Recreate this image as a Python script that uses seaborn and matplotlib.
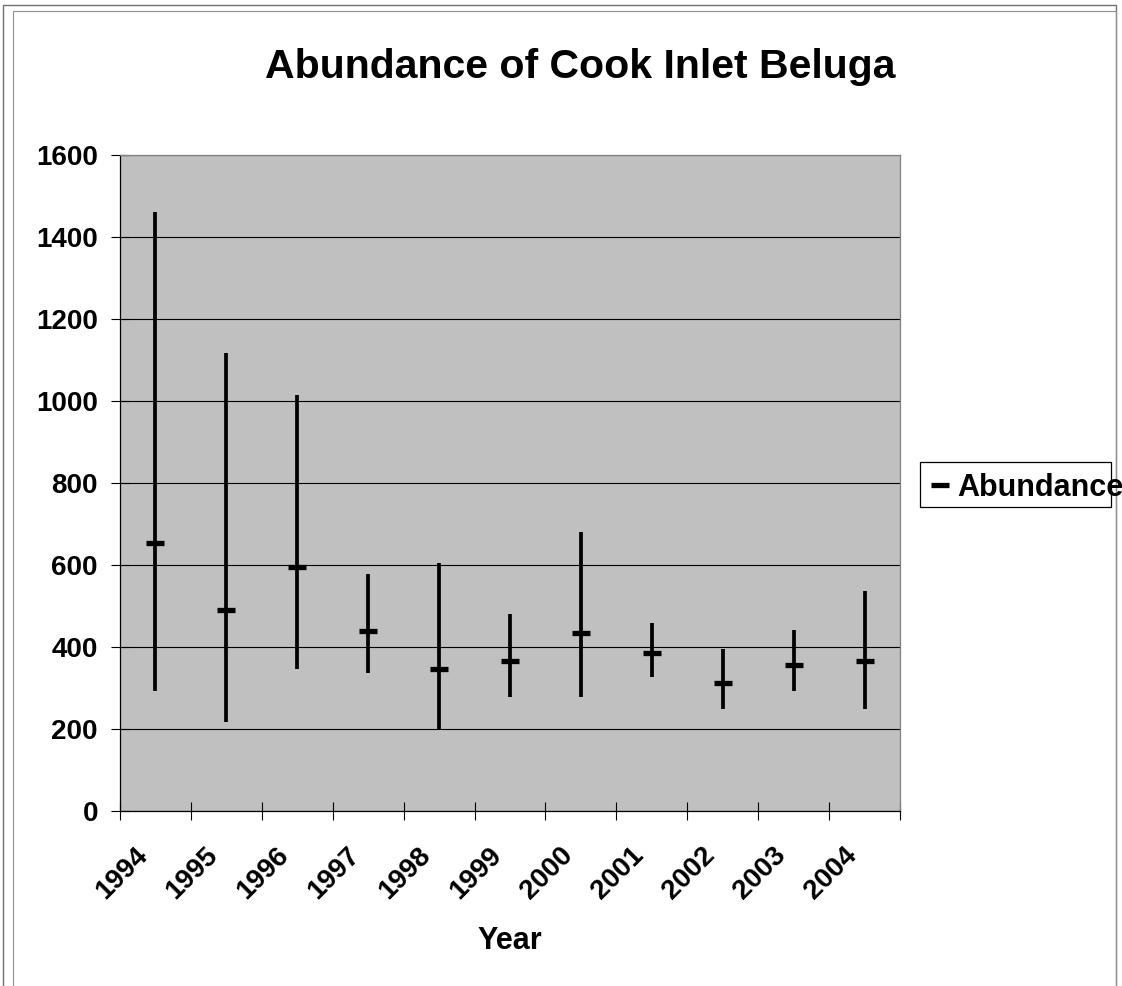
import numpy as np
import pandas as pd
import matplotlib
matplotlib.use("Agg")
import matplotlib.pyplot as plt
from matplotlib.lines import Line2D
from matplotlib.patches import Rectangle
from matplotlib.transforms import ScaledTranslation
import seaborn as sns

# ── data ─────────────────────────────────────────────────────────────────────
YEARS = ["1994", "1995", "1996", "1997", "1998", "1999",
         "2000", "2001", "2002", "2003", "2004"]
ABUNDANCE = [653, 491, 594, 440, 347, 367, 435, 386, 313, 357, 366]
LOW = [293, 216, 346, 336, 198, 279, 279, 328, 248, 292, 248]
HIGH = [1462, 1116, 1015, 577, 604, 480, 680, 458, 396, 441, 537]

# long table: low / estimate / high per year -> median + full range
df = pd.DataFrame({
    "year": YEARS * 3,
    "value": LOW + ABUNDANCE + HIGH,
})

# ── style ────────────────────────────────────────────────────────────────────
sns.set_style("white")
plt.rcParams["font.family"] = ["Liberation Sans", "DejaVu Sans"]
plt.rcParams["font.weight"] = "bold"
plt.rcParams["text.color"] = "black"
plt.rcParams["axes.labelcolor"] = "black"
plt.rcParams["xtick.color"] = "black"
plt.rcParams["ytick.color"] = "black"

W, H = 1122, 986
fig = plt.figure(figsize=(W / 100, H / 100), dpi=100, facecolor="white")
ax = fig.add_axes([120 / W, 1 - 811 / H, 780 / W, 656 / H])
ax.set_facecolor("#C0C0C0")

sns.pointplot(
    data=df, x="year", y="value", order=YEARS,
    estimator="median", errorbar=("pi", 100),
    color="black", linestyle="none", marker="_",
    markersize=13, markeredgewidth=3.8,
    err_kws={"linewidth": 2.7, "solid_capstyle": "butt"},
    ax=ax, zorder=3,
)

ax.set_ylim(0, 1600)
ax.set_yticks(np.arange(0, 1601, 200))
ax.set_xlim(-0.5, len(YEARS) - 0.5)
ax.yaxis.grid(True, color="black", linewidth=0.8)
ax.set_axisbelow(True)

# category labels at centers, tick marks at boundaries
ax.set_xticks(range(len(YEARS)))
ax.set_xticklabels(YEARS, rotation=45, ha="right", va="center",
                   rotation_mode="anchor")
ax.set_xticks(np.arange(-0.5, len(YEARS), 1.0), minor=True)
ax.tick_params(axis="x", which="major", bottom=True, length=0, pad=29,
               labelsize=20)
ax.tick_params(axis="x", which="minor", bottom=True, direction="inout",
               length=13, width=0.8, color="black")
ax.tick_params(axis="y", left=True, direction="inout", length=13, width=0.8,
               color="black", labelsize=20, pad=9.4)

# nudge the rotated year labels a little to the left
shift = ScaledTranslation(-12 / 100, 0, fig.dpi_scale_trans)
for lab in ax.get_xticklabels():
    lab.set_transform(lab.get_transform() + shift)

for side in ["left", "bottom"]:
    ax.spines[side].set_color("black")
    ax.spines[side].set_linewidth(0.9)
for side in ["top", "right"]:
    ax.spines[side].set_color("#808080")
    ax.spines[side].set_linewidth(0.9)

ax.set_xlabel("Year", fontsize=22, fontweight="bold")
ax.xaxis.set_label_coords(0.5, -0.175)
ax.set_ylabel("")

fig.text(580 / W, 1 - 78 / H, "Abundance of Cook Inlet Beluga",
         fontsize=29.5, fontweight="bold", ha="center", va="baseline")

# legend
handle = Line2D([], [], color="black", marker="_", linestyle="none",
                markersize=13, markeredgewidth=3.8)
fig.legend([handle], ["Abundance"], loc="center left",
           bbox_to_anchor=(931 / W, 1 - 488 / H), frameon=False,
           prop={"size": 22, "weight": "bold"},
           handlelength=0.6, handletextpad=0.25, borderpad=0,
           borderaxespad=0)
fig.add_artist(Rectangle((920 / W, 1 - 507 / H), 191 / W, 45 / H,
                         transform=fig.transFigure, fill=False,
                         edgecolor="black", linewidth=0.9))

# outer chart frame (double line on the left/top)
fig.add_artist(Rectangle((3 / W, -0.01), 1113 / W, 1 - 5 / H + 0.01,
                         transform=fig.transFigure, fill=False,
                         edgecolor="#707070", linewidth=1.0))
fig.add_artist(Rectangle((13 / W, -0.01), 1103 / W, 1 - 11 / H + 0.01,
                         transform=fig.transFigure, fill=False,
                         edgecolor="#909090", linewidth=0.8))

fig.savefig("out.png", dpi=100, facecolor="white")
